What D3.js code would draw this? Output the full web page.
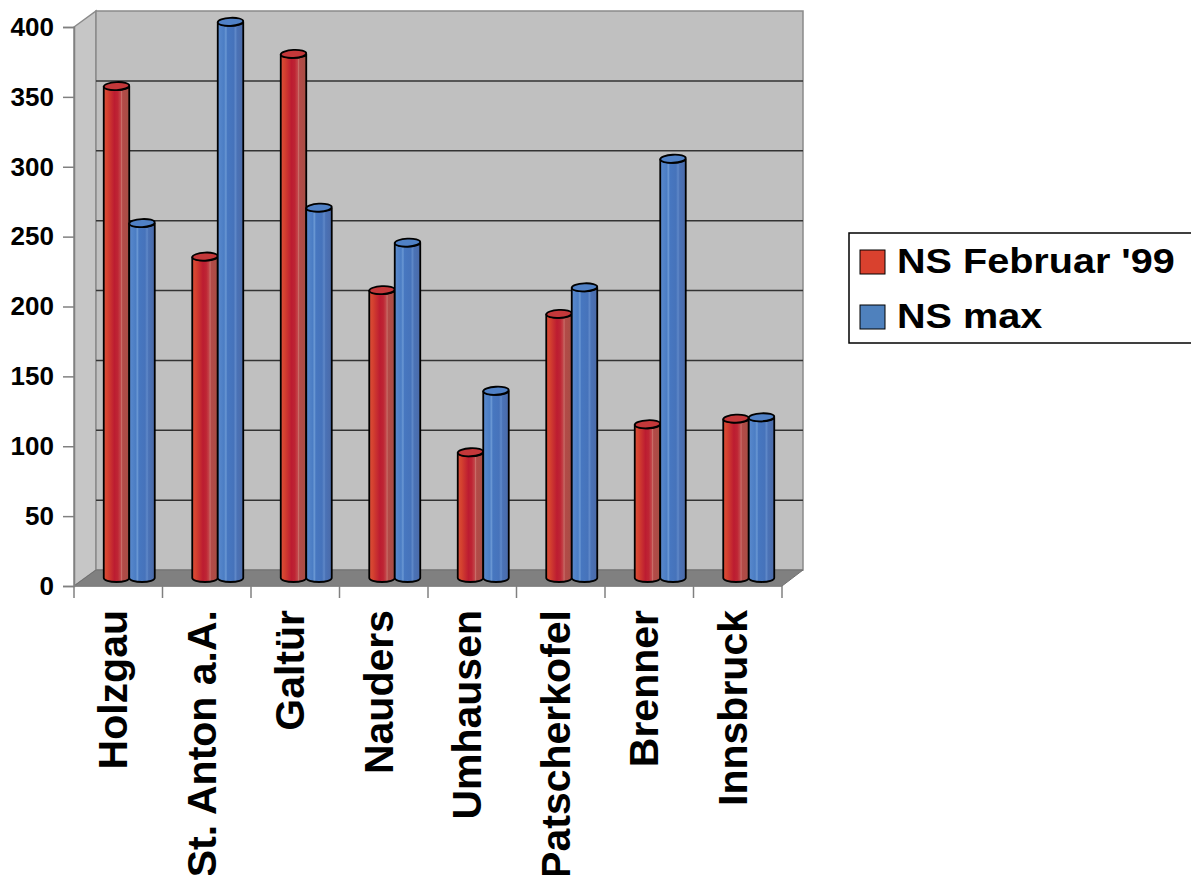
<!DOCTYPE html>
<html>
<head>
<meta charset="utf-8">
<script src="https://cdn.jsdelivr.net/npm/d3@7"></script>
<style>
  html, body { margin: 0; padding: 0; background: #fff; }
  svg { display: block; font-family: "Liberation Sans", Arial, sans-serif; }
</style>
</head>
<body>
<svg id="chart" width="1191" height="875"></svg>
<script>
// Niederschlag (precipitation) per station: February '99 vs. maximum
const categories = ["Holzgau", "St. Anton a.A.", "Galtür", "Nauders", "Umhausen", "Patscherkofel", "Brenner", "Innsbruck"];
const seriesNames = ["NS Februar '99", "NS max"];
const nsFebruar99 = [352, 230, 375, 206, 90, 189, 110, 114];
const nsMax = [254, 398, 265, 240, 134, 208, 300, 115];
const yTicks = [0, 50, 100, 150, 200, 250, 300, 350, 400];

const svg = d3.select("#chart");

// 3D box geometry: front plane + depth offset
const depthX = 22, depthY = -16;
const x = d3.scaleBand().domain(categories).range([74, 782]).padding(0);
const y = d3.scaleLinear().domain([0, 400]).range([586, 27]);
const inner = d3.scaleBand().domain(seriesNames).range([-25.5, 25.5]).padding(0);

const defs = svg.append("defs");
function cylGradient(id, stops) {
  const g = defs.append("linearGradient").attr("id", id)
    .attr("x1", "0%").attr("x2", "100%").attr("y1", "0%").attr("y2", "0%");
  stops.forEach(([o, c]) => g.append("stop").attr("offset", o).attr("stop-color", c));
}
cylGradient("gRed", [
  [0, "#da4e3a"], [0.15, "#d4412f"], [0.42, "#bc1c31"], [0.55, "#be2534"],
  [0.66, "#c3464a"], [0.7, "#c9706a"], [0.74, "#b34a48"], [1, "#a64e44"]
]);
cylGradient("gBlue", [
  [0, "#5a8acd"], [0.25, "#4b7dc4"], [0.32, "#6a98d4"], [0.38, "#4777c0"],
  [0.62, "#4673bb"], [0.7, "#5f88c8"], [0.76, "#4a72b6"], [1, "#4b6aa8"]
]);

const x0 = x.range()[0], x1 = x.range()[1];
const yTop = y(400), yBase = y(0);

// Side wall (left)
svg.append("path")
  .attr("d", `M${x0},${yTop}L${x0 + depthX},${yTop + depthY}L${x0 + depthX},${yBase + depthY}L${x0},${yBase}Z`)
  .attr("fill", "#c6c6c6").attr("stroke", "#8a8a8a").attr("stroke-width", 1.5);

// Back wall
svg.append("rect")
  .attr("x", x0 + depthX).attr("y", yTop + depthY)
  .attr("width", (x1 + depthX) - (x0 + depthX) - 1).attr("height", yBase - yTop)
  .attr("fill", "#c0c0c0").attr("stroke", "#8a8a8a").attr("stroke-width", 1.5);

// Floor
svg.append("path")
  .attr("d", `M${x0},${yBase}L${x0 + depthX},${yBase + depthY}L${x1 + depthX - 1},${yBase + depthY}L${x1},${yBase}Z`)
  .attr("fill", "#808080").attr("stroke", "#707070").attr("stroke-width", 1);

// Gridlines on the back wall
svg.append("g").selectAll("line")
  .data(yTicks.filter(t => t > 0 && t < 400))
  .join("line")
  .attr("x1", x0 + depthX).attr("x2", x1 + depthX - 1)
  .attr("y1", d => y(d) + depthY).attr("y2", d => y(d) + depthY)
  .attr("stroke", "#333").attr("stroke-width", 1.5);

// Y axis
const yAxis = d3.axisLeft(y).tickValues(yTicks).tickSize(11).tickPadding(9);
const gy = svg.append("g").attr("transform", `translate(${x0},0)`).call(yAxis);
gy.select(".domain").attr("stroke", "#808080").attr("stroke-width", 1.5);
gy.selectAll(".tick line").attr("stroke", "#808080").attr("stroke-width", 1.5);
gy.selectAll(".tick text")
  .attr("font-family", "'Liberation Sans', Arial, sans-serif")
  .attr("font-size", 26).attr("font-weight", "bold").attr("fill", "#000");

// X axis (category boundaries as ticks)
const gx = svg.append("g");
gx.append("line").attr("x1", x0).attr("x2", x1).attr("y1", yBase).attr("y2", yBase)
  .attr("stroke", "#808080").attr("stroke-width", 1.5);
const bounds = categories.map(c => x(c)).concat([x1]);
gx.selectAll("line.tk").data(bounds).join("line").attr("class", "tk")
  .attr("x1", d => d).attr("x2", d => d).attr("y1", yBase).attr("y2", yBase + 12)
  .attr("stroke", "#808080").attr("stroke-width", 1.5);
gx.selectAll("text").data(categories).join("text")
  .attr("transform", d => `translate(${x(d) + x.bandwidth() / 2 + 9},610) rotate(-90)`)
  .attr("text-anchor", "end")
  .attr("font-size", 41).attr("font-weight", "bold").attr("fill", "#000")
  .text(d => d);

// Cylinders at half depth
const bx = depthX / 2, by = depthY / 2;
const rx = inner.bandwidth() / 2, ry = 4;
const rows = [];
categories.forEach((c, i) => {
  rows.push({ cat: c, series: seriesNames[0], value: nsFebruar99[i], fill: "url(#gRed)", top: "#c4383a" });
  rows.push({ cat: c, series: seriesNames[1], value: nsMax[i], fill: "url(#gBlue)", top: "#5081c6" });
});

const bars = svg.append("g").selectAll("g").data(rows).join("g");
bars.each(function (d) {
  const g = d3.select(this);
  const cx = x(d.cat) + x.bandwidth() / 2 + bx + inner(d.series) + rx;
  const yt = y(d.value) + by, yb = y(0) + by;
  const l = cx - rx, r = cx + rx;
  g.append("path")
    .attr("d", `M${l},${yt}L${l},${yb}A${rx},${ry} 0 0 0 ${r},${yb}L${r},${yt}A${rx},${ry} 0 0 1 ${l},${yt}Z`)
    .attr("fill", d.fill).attr("stroke", "#000").attr("stroke-width", 1.8);
  g.append("ellipse")
    .attr("cx", cx).attr("cy", yt).attr("rx", rx).attr("ry", ry)
    .attr("transform", `rotate(-3,${cx},${yt})`)
    .attr("fill", d.top).attr("stroke", "#000").attr("stroke-width", 1.8);
});

// Legend
const legend = svg.append("g");
legend.append("rect").attr("x", 849).attr("y", 233).attr("width", 350).attr("height", 110)
  .attr("fill", "#fff").attr("stroke", "#000").attr("stroke-width", 1.5);
const legendColors = ["#d9412e", "#4f81bd"];
const li = legend.selectAll("g").data(seriesNames).join("g")
  .attr("transform", (d, i) => `translate(860,${250 + i * 55})`);
li.append("rect").attr("width", 25).attr("height", 24)
  .attr("fill", (d, i) => legendColors[i]).attr("stroke", "#000").attr("stroke-width", 1);
li.append("text").attr("transform", "translate(37,23) scale(1.1,1)")
  .attr("font-size", 36).attr("font-weight", "bold").attr("fill", "#000")
  .text(d => d);
</script>
</body>
</html>
